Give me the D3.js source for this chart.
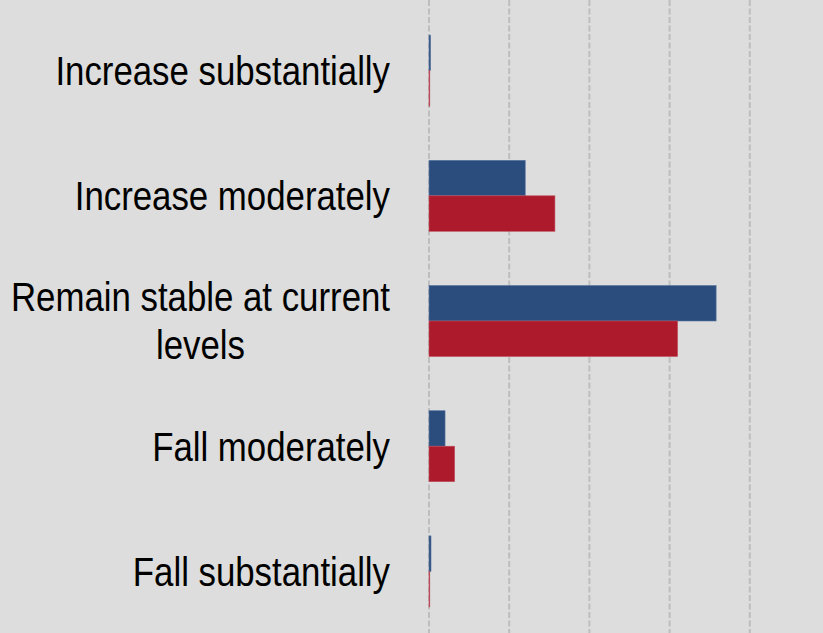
<!DOCTYPE html>
<meta charset="utf-8">
<style>
  html, body { margin: 0; padding: 0; background: #dcdddc; }
  svg { display: block; }
</style>
<body>
<script src="https://cdn.jsdelivr.net/npm/d3@7"></script>
<script>

var width = 823,
    height = 633;

var categories = ["Increase substantially", "Increase moderately",
                  "Remain stable at current levels", "Fall moderately", "Fall substantially"],
    seriesA = [0.2, 12.0, 35.8, 2.0, 0.25],   // blue
    seriesB = [0.1, 15.7, 31.0, 3.2, 0.1],    // red
    xTicks = [0, 10, 20, 30, 40, 50];

// line breaks the way the reference wraps them
var labelLines = {
  "Remain stable at current levels": ["Remain stable at current", "levels"]
};

var colors = ["#2b4d7e", "#ac1a2b"];

var x = d3.scaleLinear()
    .domain([0, 50])
    .range([429, 830]);

var y = d3.scaleBand()
    .domain(categories)
    .range([8, 634])
    .paddingInner(0.433)
    .paddingOuter(0.2165);

var inner = d3.scaleBand()
    .domain([0, 1])
    .range([0, y.bandwidth()]);

var svg = d3.select("body").append("svg")
    .attr("width", width)
    .attr("height", height);

svg.append("rect")
    .attr("width", width)
    .attr("height", height)
    .attr("fill", "#dcdddc");

// dashed vertical gridlines
svg.append("g")
  .selectAll("line")
  .data(xTicks)
  .enter().append("line")
    .attr("x1", d => x(d))
    .attr("x2", d => x(d))
    .attr("y1", 0)
    .attr("y2", height)
    .attr("stroke", "#bdbebd")
    .attr("stroke-width", 2)
    .attr("stroke-dasharray", "6,2.5");

var series = [seriesA, seriesB];

var groups = svg.append("g")
  .selectAll("g")
  .data(categories)
  .enter().append("g")
    .attr("transform", d => "translate(0," + y(d) + ")");

groups.selectAll("rect")
  .data((d, i) => series.map((s, k) => ({ k: k, v: s[i] })))
  .enter().append("rect")
    .attr("x", x(0))
    .attr("y", d => inner(d.k))
    .attr("width", d => Math.max(x(d.v) - x(0), 0.8))
    .attr("height", inner.bandwidth())
    .attr("fill", d => colors[d.k])
    .attr("stroke", d => d.k ? "#c0505f" : "#5a76a0")
    .attr("stroke-width", 0.6);

// category labels (narrow face is not installed, so squeeze horizontally)
var fontSize = 40,
    lineH = 48,
    labelRight = 390,
    squeeze = 0.87;

var labels = svg.append("g")
    .attr("font-family", "'Liberation Sans', Arial, sans-serif")
    .attr("font-size", fontSize)
    .attr("fill", "#000");

categories.forEach(function(c) {
  var lines = labelLines[c] || [c],
      cy = y(c) + y.bandwidth() / 2,
      first = cy - (lines.length - 1) * lineH / 2 + fontSize * 0.36;
  var t = labels.append("text")
      .attr("transform", "translate(" + labelRight + ",0) scale(" + squeeze + ",1)");
  var spans = lines.map(function(l, i) {
    return t.append("tspan").attr("y", first + i * lineH).text(l);
  });
  var maxW = d3.max(spans, s => s.node().getComputedTextLength());
  spans.forEach(function(s) {
    s.attr("x", -maxW / 2).attr("text-anchor", "middle");
  });
});

</script>
